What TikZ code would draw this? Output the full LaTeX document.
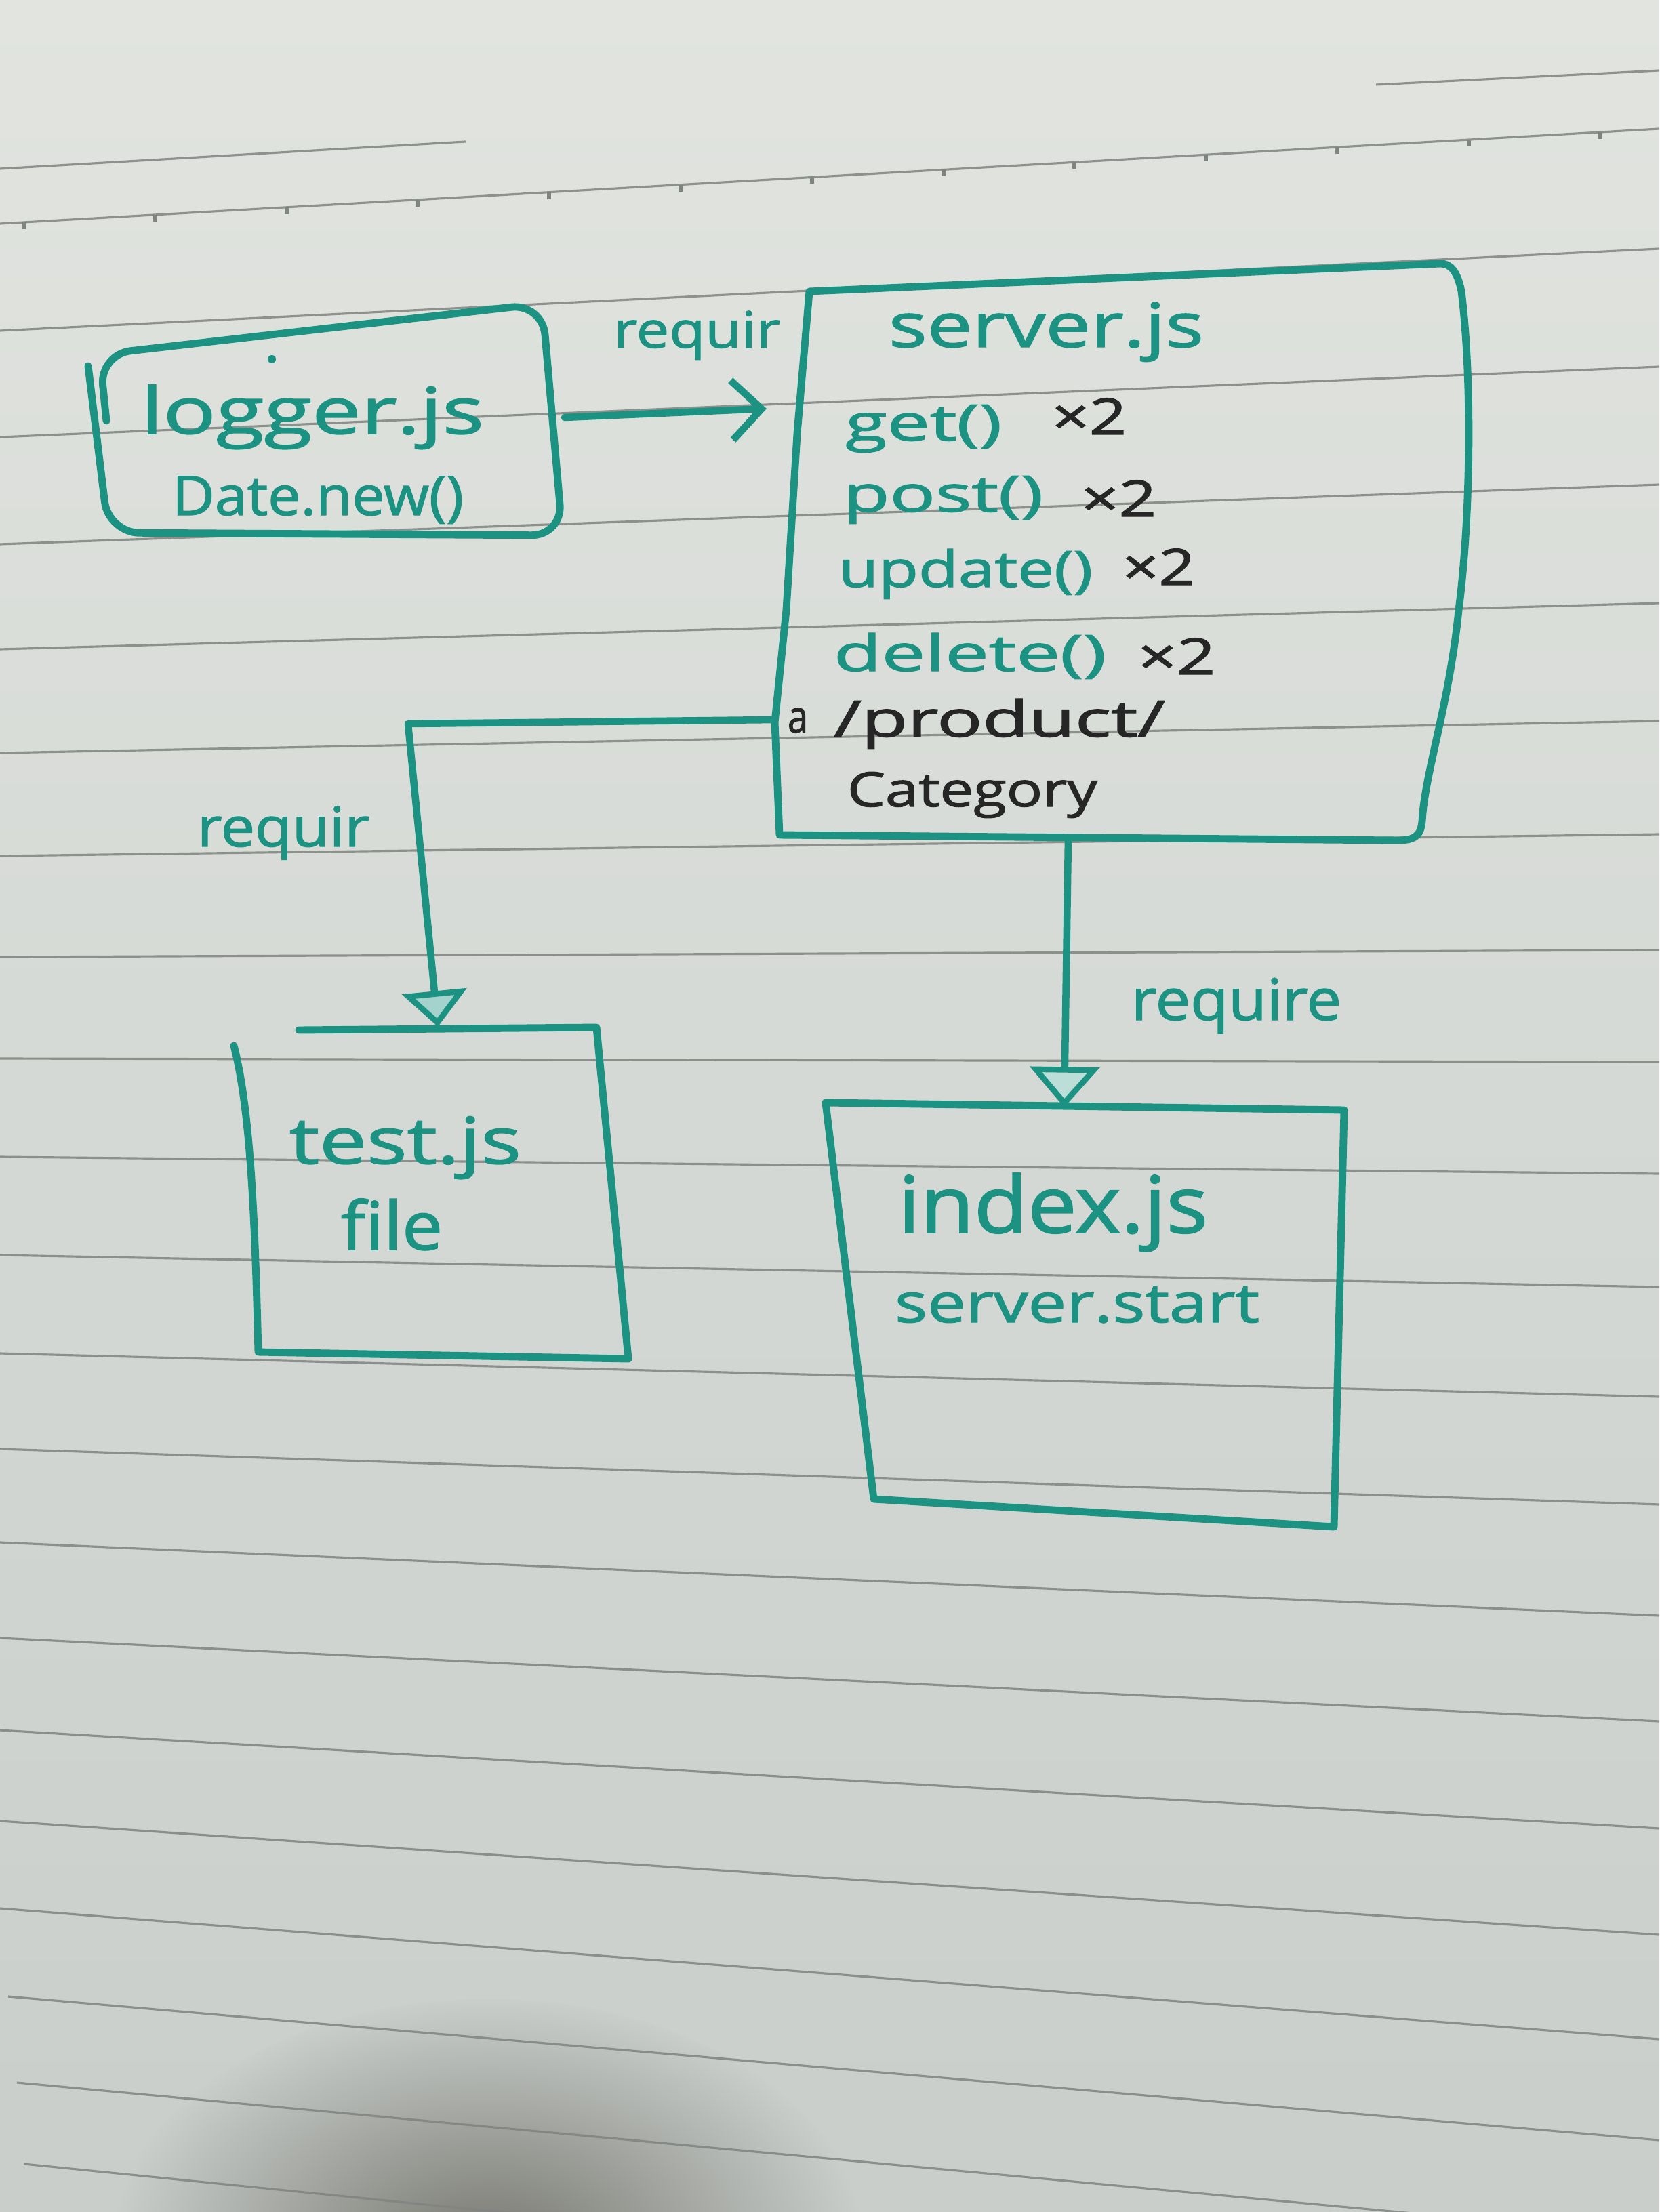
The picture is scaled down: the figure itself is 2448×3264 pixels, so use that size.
\documentclass[tikz,border=0pt]{standalone}
\usepackage{fontspec}
\setmainfont{Open Sans}[RawFeature={embolden=1.6}]
\usepackage{graphicx}
\usetikzlibrary{arrows.meta}
\definecolor{ink}{RGB}{28,146,130}
\definecolor{pen}{RGB}{38,38,38}
\definecolor{papertop}{RGB}{225,228,223}
\definecolor{papermid}{RGB}{215,220,215}
\definecolor{paperbot}{RGB}{201,206,203}
\definecolor{rulec}{RGB}{128,132,129}
\definecolor{shadowc}{RGB}{118,118,111}
\newlength\pxu \setlength\pxu{0.01cm}
\newcommand\fitw[2]{\resizebox{#1\pxu}{\height}{#2}}
\newcommand\fsz[1]{\fontsize{#1pt}{#1pt}\selectfont}
\tikzset{
  box/.style={draw=ink, line width=3.1pt, line join=round, line cap=round},
  conn/.style={draw=ink, line width=3pt, line cap=round, line join=round},
  lbl/.style={anchor=base west, inner sep=0pt, outer sep=0pt, text=ink},
  blk/.style={lbl, text=pen},
  ruling/.style={draw=rulec, line width=0.9pt, opacity=0.85},
  tri/.style={-{Triangle[length=15pt,width=27pt,fill=ink!40,line width=2.4pt]}},
  trib/.style={-{Triangle[length=17pt,width=29pt,fill=ink!30,line width=2.4pt]}},
  barb/.style={-{Straight Barb[length=12.5pt,width=25pt,line width=3pt]}}
}
\begin{document}
\begin{tikzpicture}[x=0.01cm, y=-0.01cm]
\useasboundingbox (0,0) rectangle (2448,3264);
\clip (0,0) rectangle (2448,3264);
% paper
\shade[top color=papertop, middle color=papermid, bottom color=paperbot] (0,0) rectangle (2448,3264);
% shadow
\shade[inner color=shadowc, outer color=paperbot] (720,3330) ellipse [x radius=5.6cm, y radius=3.8cm];
% ruled lines
\draw[ruling] (0,249) -- (687,209);
\draw[ruling] (2030,125) -- (2448,104);
\foreach \a/\b in {330/190,488/367,645/541,803/715,958/890,1111/1064,1263/1231,1412/1402,1562/1567,1707/1732,1852/1899,1997/2061,2138/2220,2276/2384,2417/2540,2553/2698,2687/2855,2816/3009}
  \draw[ruling] (0,\a) -- (2448,\b);
\draw[ruling] (12,2946) -- (2448,3158);
\draw[ruling] (25,3073) -- (2448,3300);
\draw[ruling] (35,3193) -- (2448,3437);
\foreach \t in {35,229,423,616,810,1004,1198,1392,1585,1779,1973,2167,2361}
  \draw[rulec, line width=1.8pt] (\t,{330-0.0572*\t}) -- ++(0,10);

% logger box
\draw[box, rounded corners=13pt] (157,621) -- (147,523) -- (800,448) -- (830,790) -- (160,786) -- (130,540);
\fill[ink] (401,530) circle [radius=6];
\node[lbl, font=\fsz{27}] (lgname) at (208,640) {\fitw{506}{logger.js}};
\node[lbl, font=\fsz{22.8}] (lgdate) at (254,760) {\fitw{430}{Date.new()}};

% server box
\draw[box] (1194,430) -- (2125,389)
   .. controls (2140,389) and (2150,400) .. (2156,430)
   .. controls (2172,560) and (2170,760) .. (2152,900)
   .. controls (2138,1040) and (2102,1140) .. (2098,1212)
   .. controls (2096,1234) and (2086,1240) .. (2062,1240)
   -- (1150,1232) -- (1143,1066) -- (1160,900) -- (1176,640) -- cycle;
\node[lbl, font=\fsz{25.6}] (srvname) at (1311,512) {\fitw{465}{server.js}};
\node[lbl, font=\fsz{21}] (mget) at (1247,650) {\fitw{231}{get()}};
\node[blk, font=\fsz{21}] (nget) at (1552,641) {\fitw{110}{×2}};
\node[lbl, font=\fsz{21}] (mpost) at (1244,755) {\fitw{295}{post()}};
\node[blk, font=\fsz{21}] (npost) at (1595,762) {\fitw{111}{×2}};
\node[lbl, font=\fsz{21}] (mupd) at (1237,866) {\fitw{375}{update()}};
\node[blk, font=\fsz{21}] (nupd) at (1656,863) {\fitw{107}{×2}};
\node[lbl, font=\fsz{21}] (mdel) at (1230,990) {\fitw{402}{delete()}};
\node[blk, font=\fsz{21}] (ndel) at (1679,995) {\fitw{114}{×2}};
\node[blk, font=\fsz{19}] (pa) at (1162,1081) {\fitw{30}{a}};
\node[blk, font=\fsz{21}] (pprod) at (1230,1087) {\fitw{489}{/product/}};
\node[blk, font=\fsz{20}] (pcat) at (1250,1190) {\fitw{369}{Category}};

% test box
\draw[box] (441,1520) -- (880,1516) -- (927,2005) -- (381,1995) .. controls (376,1800) and (370,1640) .. (345,1543);
\node[lbl, font=\fsz{27}] (tname) at (427,1717) {\fitw{342}{test.js}};
\node[lbl, font=\fsz{28}] (tfile) at (503,1844) {\fitw{150}{file}};

% index box
\draw[box] (1218,1627) -- (1983,1638) -- (1968,2253) -- (1289,2212) -- cycle;
\node[lbl, font=\fsz{33}] (iname) at (1325,1819) {\fitw{457}{index.js}};
\node[lbl, font=\fsz{22.8}] (istart) at (1320,1951) {\fitw{538}{server.start}};

% connectors
\coordinate (lgOut) at (833,616);
\coordinate (srvIn) at (1131,603);
\draw[conn, barb] (lgOut) -- (srvIn);
\node[lbl, font=\fsz{21}] (req1) at (905,513) {\fitw{246}{requir}};

\coordinate (srvL) at (1143,1062);
\coordinate (bendL) at (602,1068);
\coordinate (tstTop) at (646,1515);
\draw[conn, tri] (srvL) -- (bendL) -- (tstTop);
\node[lbl, font=\fsz{23}] (req2) at (291,1249) {\fitw{254}{requir}};

\coordinate (srvB) at (1576,1236);
\coordinate (idxTop) at (1570,1634);
\draw[conn, trib] (srvB) -- (idxTop);
\node[lbl, font=\fsz{24}] (req3) at (1669,1505) {\fitw{310}{require}};
\end{tikzpicture}
\end{document}
